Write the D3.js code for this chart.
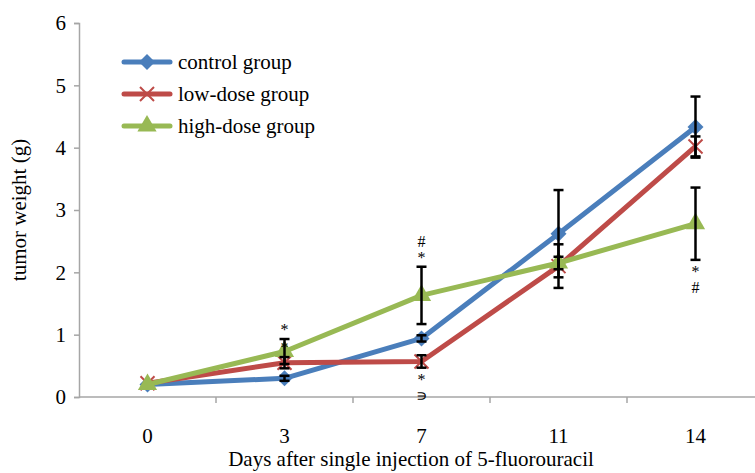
<!DOCTYPE html>
<html>
<head>
<meta charset="utf-8">
<script src="https://cdn.jsdelivr.net/npm/d3@7"></script>
<style>
  body { margin: 0; background: #fff; }
</style>
</head>
<body>
<div id="chart"></div>
<script>
// data
const days = ['0', '3', '7', '11', '14'];
const control = [0.20, 0.30, 0.94, 2.62, 4.33];
const controlErr = [0, 0.04, 0.05, 0.70, 0.49];
const lowDose = [0.22, 0.55, 0.57, 2.10, 4.02];
const lowDoseErr = [0, 0.09, 0.10, 0.35, 0.16];
const highDose = [0.20, 0.73, 1.63, 2.15, 2.78];
const highDoseErr = [0, 0.20, 0.46, 0.10, 0.58];
const yTicks = [0, 1, 2, 3, 4, 5, 6];
// significance marks next to the error bars
const marks = [
  { day: '3', side: 'above', series: 'high', lines: ['*'] },
  { day: '3', side: 'above', series: 'low', lines: ['*'] },
  { day: '7', side: 'above', series: 'high', lines: ['#', '*'] },
  { day: '7', side: 'below', series: 'low', lines: ['*', '\u220D'] },
  { day: '14', side: 'below', series: 'high', lines: ['*', '#'] }
];

const W = 755, H = 473;
const margin = { top: 23, left: 79, bottom: 76 };
const plotH = H - margin.top - margin.bottom;
const bandW = 137;
const FONT = '"Liberation Serif", "Times New Roman", serif';
const FS = 21;

const series = [
  { key: 'control', name: 'control group', values: control, err: controlErr, color: '#4a7ebb', shape: 'diamond' },
  { key: 'low', name: 'low-dose group', values: lowDose, err: lowDoseErr, color: '#be4b48', shape: 'cross' },
  { key: 'high', name: 'high-dose group', values: highDose, err: highDoseErr, color: '#98b954', shape: 'triangle' }
];

const svg = d3.select('#chart').append('svg')
  .attr('width', W).attr('height', H)
  .attr('font-family', FONT)
  .style('display', 'block');

const x = d3.scaleBand().domain(days)
  .range([margin.left, margin.left + bandW * days.length]);
const y = d3.scaleLinear().domain([0, 6]).range([margin.top + plotH, margin.top]);
const cx = d => x(d) + x.bandwidth() / 2;

// axes
const axisColor = '#a6a6a6';
const yAxis = svg.append('g')
  .attr('transform', 'translate(' + margin.left + ',0)')
  .call(d3.axisLeft(y).tickValues(yTicks).tickSize(5).tickPadding(8).tickFormat(d3.format('d')));
yAxis.attr('font-family', FONT).attr('font-size', FS);
yAxis.selectAll('.domain').attr('stroke', axisColor).attr('stroke-width', 1.5);
yAxis.selectAll('.tick line').attr('stroke', axisColor).attr('stroke-width', 1.5);
yAxis.selectAll('text').attr('fill', '#000');

const xAxisG = svg.append('g').attr('transform', 'translate(0,' + y(0) + ')');
xAxisG.append('line')
  .attr('x1', margin.left).attr('x2', W)
  .attr('stroke', axisColor).attr('stroke-width', 1.5);
xAxisG.selectAll('.xtick').data(days.slice(1)).join('line')
  .attr('x1', d => x(d)).attr('x2', d => x(d))
  .attr('y1', 0).attr('y2', 6)
  .attr('stroke', axisColor).attr('stroke-width', 1.5);
xAxisG.selectAll('.xlab').data(days).join('text')
  .attr('x', d => cx(d)).attr('y', 46)
  .attr('text-anchor', 'middle').attr('font-size', FS).text(d => d);

svg.append('text')
  .attr('x', 411).attr('y', 466)
  .attr('text-anchor', 'middle').attr('font-size', FS)
  .text('Days after single injection of 5-fluorouracil');

svg.append('text')
  .attr('transform', 'translate(26,' + y(3) + ') rotate(-90)')
  .attr('text-anchor', 'middle').attr('font-size', FS)
  .text('tumor weight (g)');

// marker drawing
function drawMarker(g, shape, color) {
  if (shape === 'diamond') {
    g.append('path').attr('d', 'M0,-8L8,0L0,8L-8,0Z').attr('fill', color);
  } else if (shape === 'cross') {
    g.append('path').attr('d', 'M-7,-7L7,7M-7,7L7,-7')
      .attr('stroke', color).attr('stroke-width', 2).attr('fill', 'none');
  } else {
    g.append('path').attr('d', d3.symbol(d3.symbolTriangle, 160)()).attr('fill', color);
  }
}

const line = d3.line().x(d => cx(d.day)).y(d => y(d.v));

series.forEach(s => {
  const pts = days.map((d, i) => ({ day: d, v: s.values[i], e: s.err[i] }));
  svg.append('path').datum(pts)
    .attr('d', line).attr('fill', 'none')
    .attr('stroke', s.color).attr('stroke-width', 5).attr('stroke-linejoin', 'round');
  pts.forEach(p => {
    const g = svg.append('g').attr('transform', 'translate(' + cx(p.day) + ',' + y(p.v) + ')');
    drawMarker(g, s.shape, s.color);
  });
});

// error bars on top
series.forEach(s => {
  days.forEach((d, i) => {
    const v = s.values[i], e = s.err[i];
    if (!e) return;
    const g = svg.append('g').attr('stroke', '#000').attr('stroke-width', 2.5);
    g.append('line').attr('x1', cx(d)).attr('x2', cx(d)).attr('y1', y(v - e)).attr('y2', y(v + e));
    [v - e, v + e].forEach(t => {
      g.append('line').attr('x1', cx(d) - 5).attr('x2', cx(d) + 5).attr('y1', y(t)).attr('y2', y(t));
    });
  });
});

// significance marks
const byKey = Object.fromEntries(series.map(s => [s.key, s]));
const gap = 16;
marks.forEach(m => {
  const s = byKey[m.series];
  const i = days.indexOf(m.day);
  const v = s.values[i], e = s.err[i];
  const n = m.lines.length;
  const y0 = m.side === 'above'
    ? y(v + e) - 4 - (n - 1) * gap
    : y(v - e) + 17;
  m.lines.forEach((l, j) => {
    svg.append('text').attr('x', cx(m.day)).attr('y', y0 + j * gap)
      .attr('text-anchor', 'middle').attr('font-size', 16).text(l);
  });
});

// legend
const legend = svg.append('g').attr('transform', 'translate(124,62)');
series.forEach((s, i) => {
  const g = legend.append('g').attr('transform', 'translate(0,' + i * 32 + ')');
  g.append('line').attr('x1', 0).attr('x2', 46)
    .attr('stroke', s.color).attr('stroke-width', 5).attr('stroke-linecap', 'round');
  drawMarker(g.append('g').attr('transform', 'translate(23,0)'), s.shape, s.color);
  g.append('text').attr('x', 54).attr('y', 7).attr('font-size', FS).text(s.name);
});
</script>
</body>
</html>
